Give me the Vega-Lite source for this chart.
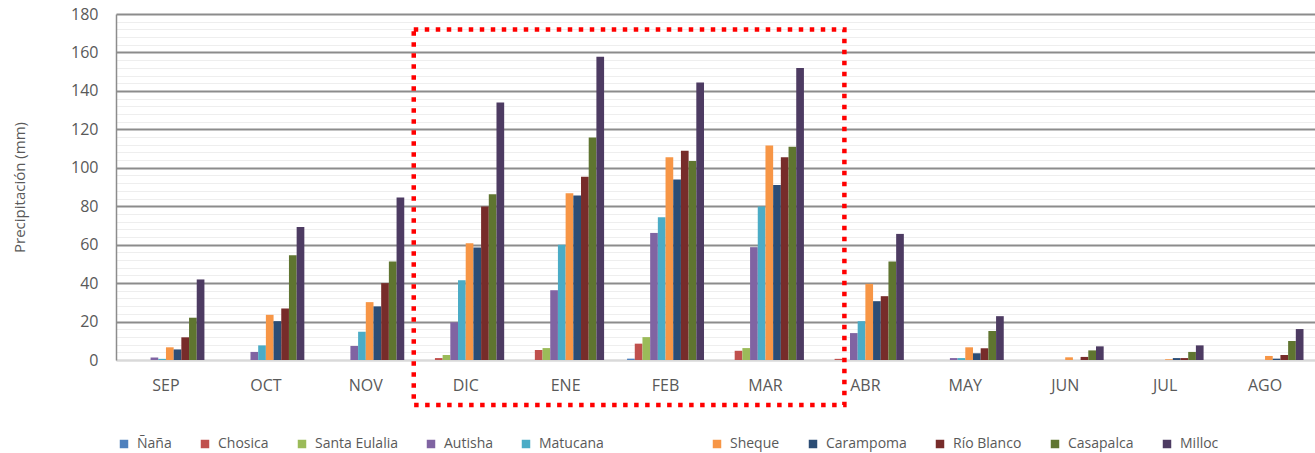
{
  "$schema": "https://vega.github.io/schema/vega-lite/v6.json",
  "autosize": {"type": "none"},
  "padding": {"left": 116, "top": 14, "right": 0, "bottom": 93},
  "width": 1199,
  "height": 346,
  "background": "white",
  "config": {
    "view": {"stroke": null},
    "font": "Open Sans",
    "axis": {"labelFont": "Open Sans", "titleFont": "Open Sans", "labelColor": "#595959", "titleColor": "#595959"},
    "legend": {"labelFont": "Open Sans", "labelColor": "#595959"}
  },
  "datasets": {
    "rain": [
      {"m": "SEP", "s": "Ñaña", "v": 0}, {"m": "SEP", "s": "Chosica", "v": 0}, {"m": "SEP", "s": "Santa Eulalia", "v": 0}, {"m": "SEP", "s": "Autisha", "v": 1.3}, {"m": "SEP", "s": "Matucana", "v": 0.6}, {"m": "SEP", "s": "Sheque", "v": 6.6}, {"m": "SEP", "s": "Carampoma", "v": 5.5}, {"m": "SEP", "s": "Río Blanco", "v": 11.8}, {"m": "SEP", "s": "Casapalca", "v": 22}, {"m": "SEP", "s": "Milloc", "v": 41.9},
      {"m": "OCT", "s": "Ñaña", "v": 0}, {"m": "OCT", "s": "Chosica", "v": 0}, {"m": "OCT", "s": "Santa Eulalia", "v": 0}, {"m": "OCT", "s": "Autisha", "v": 4.2}, {"m": "OCT", "s": "Matucana", "v": 7.6}, {"m": "OCT", "s": "Sheque", "v": 23.5}, {"m": "OCT", "s": "Carampoma", "v": 20.2}, {"m": "OCT", "s": "Río Blanco", "v": 26.8}, {"m": "OCT", "s": "Casapalca", "v": 54.5}, {"m": "OCT", "s": "Milloc", "v": 69.2},
      {"m": "NOV", "s": "Ñaña", "v": 0}, {"m": "NOV", "s": "Chosica", "v": 0}, {"m": "NOV", "s": "Santa Eulalia", "v": 0}, {"m": "NOV", "s": "Autisha", "v": 7.3}, {"m": "NOV", "s": "Matucana", "v": 14.7}, {"m": "NOV", "s": "Sheque", "v": 30.1}, {"m": "NOV", "s": "Carampoma", "v": 27.9}, {"m": "NOV", "s": "Río Blanco", "v": 40}, {"m": "NOV", "s": "Casapalca", "v": 51.2}, {"m": "NOV", "s": "Milloc", "v": 84.6},
      {"m": "DIC", "s": "Ñaña", "v": 0}, {"m": "DIC", "s": "Chosica", "v": 1.0}, {"m": "DIC", "s": "Santa Eulalia", "v": 2.6}, {"m": "DIC", "s": "Autisha", "v": 19.6}, {"m": "DIC", "s": "Matucana", "v": 41.5}, {"m": "DIC", "s": "Sheque", "v": 60.7}, {"m": "DIC", "s": "Carampoma", "v": 58.5}, {"m": "DIC", "s": "Río Blanco", "v": 79.8}, {"m": "DIC", "s": "Casapalca", "v": 86.2}, {"m": "DIC", "s": "Milloc", "v": 133.9},
      {"m": "ENE", "s": "Ñaña", "v": 0}, {"m": "ENE", "s": "Chosica", "v": 5.2}, {"m": "ENE", "s": "Santa Eulalia", "v": 6.2}, {"m": "ENE", "s": "Autisha", "v": 36.3}, {"m": "ENE", "s": "Matucana", "v": 59.9}, {"m": "ENE", "s": "Sheque", "v": 86.7}, {"m": "ENE", "s": "Carampoma", "v": 85.6}, {"m": "ENE", "s": "Río Blanco", "v": 95.3}, {"m": "ENE", "s": "Casapalca", "v": 115.7}, {"m": "ENE", "s": "Milloc", "v": 157.8},
      {"m": "FEB", "s": "Ñaña", "v": 0.7}, {"m": "FEB", "s": "Chosica", "v": 8.5}, {"m": "FEB", "s": "Santa Eulalia", "v": 11.9}, {"m": "FEB", "s": "Autisha", "v": 66.1}, {"m": "FEB", "s": "Matucana", "v": 74.2}, {"m": "FEB", "s": "Sheque", "v": 105.5}, {"m": "FEB", "s": "Carampoma", "v": 93.9}, {"m": "FEB", "s": "Río Blanco", "v": 108.8}, {"m": "FEB", "s": "Casapalca", "v": 103.5}, {"m": "FEB", "s": "Milloc", "v": 144.3},
      {"m": "MAR", "s": "Ñaña", "v": 0}, {"m": "MAR", "s": "Chosica", "v": 4.8}, {"m": "MAR", "s": "Santa Eulalia", "v": 6.2}, {"m": "MAR", "s": "Autisha", "v": 58.7}, {"m": "MAR", "s": "Matucana", "v": 79.8}, {"m": "MAR", "s": "Sheque", "v": 111.6}, {"m": "MAR", "s": "Carampoma", "v": 91}, {"m": "MAR", "s": "Río Blanco", "v": 105.5}, {"m": "MAR", "s": "Casapalca", "v": 110.9}, {"m": "MAR", "s": "Milloc", "v": 151.9},
      {"m": "ABR", "s": "Ñaña", "v": 0}, {"m": "ABR", "s": "Chosica", "v": 0.6}, {"m": "ABR", "s": "Santa Eulalia", "v": 0}, {"m": "ABR", "s": "Autisha", "v": 14}, {"m": "ABR", "s": "Matucana", "v": 20.2}, {"m": "ABR", "s": "Sheque", "v": 39.6}, {"m": "ABR", "s": "Carampoma", "v": 30.6}, {"m": "ABR", "s": "Río Blanco", "v": 33.2}, {"m": "ABR", "s": "Casapalca", "v": 51.2}, {"m": "ABR", "s": "Milloc", "v": 65.6},
      {"m": "MAY", "s": "Ñaña", "v": 0}, {"m": "MAY", "s": "Chosica", "v": 0}, {"m": "MAY", "s": "Santa Eulalia", "v": 0}, {"m": "MAY", "s": "Autisha", "v": 1.0}, {"m": "MAY", "s": "Matucana", "v": 1.0}, {"m": "MAY", "s": "Sheque", "v": 6.6}, {"m": "MAY", "s": "Carampoma", "v": 3.5}, {"m": "MAY", "s": "Río Blanco", "v": 6.1}, {"m": "MAY", "s": "Casapalca", "v": 15.1}, {"m": "MAY", "s": "Milloc", "v": 22.8},
      {"m": "JUN", "s": "Ñaña", "v": 0}, {"m": "JUN", "s": "Chosica", "v": 0}, {"m": "JUN", "s": "Santa Eulalia", "v": 0}, {"m": "JUN", "s": "Autisha", "v": 0}, {"m": "JUN", "s": "Matucana", "v": 0}, {"m": "JUN", "s": "Sheque", "v": 1.4}, {"m": "JUN", "s": "Carampoma", "v": 0}, {"m": "JUN", "s": "Río Blanco", "v": 1.6}, {"m": "JUN", "s": "Casapalca", "v": 5.0}, {"m": "JUN", "s": "Milloc", "v": 7.1},
      {"m": "JUL", "s": "Ñaña", "v": 0}, {"m": "JUL", "s": "Chosica", "v": 0}, {"m": "JUL", "s": "Santa Eulalia", "v": 0}, {"m": "JUL", "s": "Autisha", "v": 0}, {"m": "JUL", "s": "Matucana", "v": 0}, {"m": "JUL", "s": "Sheque", "v": 0.4}, {"m": "JUL", "s": "Carampoma", "v": 1.0}, {"m": "JUL", "s": "Río Blanco", "v": 1.0}, {"m": "JUL", "s": "Casapalca", "v": 4.2}, {"m": "JUL", "s": "Milloc", "v": 7.6},
      {"m": "AGO", "s": "Ñaña", "v": 0}, {"m": "AGO", "s": "Chosica", "v": 0}, {"m": "AGO", "s": "Santa Eulalia", "v": 0}, {"m": "AGO", "s": "Autisha", "v": 0}, {"m": "AGO", "s": "Matucana", "v": 0}, {"m": "AGO", "s": "Sheque", "v": 2.1}, {"m": "AGO", "s": "Carampoma", "v": 0.7}, {"m": "AGO", "s": "Río Blanco", "v": 2.6}, {"m": "AGO", "s": "Casapalca", "v": 9.9}, {"m": "AGO", "s": "Milloc", "v": 16.1}
    ],
    "box": [{"x1": 2.98, "x2": 7.29, "y1": 172.0, "y2": -23.4}]
  },
  "layer": [
    {
      "data": {"name": "rain"},
      "mark": {"type": "bar"},
      "encoding": {
        "x": {
          "field": "m", "type": "nominal",
          "sort": ["SEP", "OCT", "NOV", "DIC", "ENE", "FEB", "MAR", "ABR", "MAY", "JUN", "JUL", "AGO"],
          "scale": {"paddingInner": 0.23, "paddingOuter": 0.115},
          "axis": {"title": null, "labelAngle": 0, "ticks": false, "labelPadding": 17, "labelFontSize": 16, "domainColor": "#d9d9d9", "domainWidth": 2, "grid": false}
        },
        "xOffset": {
          "field": "s", "type": "nominal",
          "sort": ["Ñaña", "Chosica", "Santa Eulalia", "Autisha", "Matucana", "Sheque", "Carampoma", "Río Blanco", "Casapalca", "Milloc"],
          "scale": {"paddingInner": 0, "paddingOuter": 0}
        },
        "y": {
          "field": "v", "type": "quantitative",
          "scale": {"domain": [0, 180], "nice": false},
          "axis": {
            "title": "Precipitación (mm)", "titleFontSize": 15, "titleFontWeight": "normal", "titlePadding": 43,
            "values": [0, 20, 40, 60, 80, 100, 120, 140, 160, 180],
            "labelFontSize": 16, "labelPadding": 18, "ticks": false,
            "domain": true, "domainColor": "#8c8c8c", "domainWidth": 1.5,
            "grid": true, "gridWidth": 1.8,
            "gridColor": {"condition": {"test": "datum.value === 0", "value": "#d9d9d9"}, "value": "#8c8c8c"}
          }
        },
        "color": {
          "field": "s", "type": "nominal",
          "scale": {
            "domain": ["Ñaña", "Chosica", "Santa Eulalia", "Autisha", "Matucana", "Sheque", "Carampoma", "Río Blanco", "Casapalca", "Milloc"],
            "range": ["#4F81BD", "#C0504D", "#9BBB59", "#8064A2", "#4BACC6", "#F79646", "#2C4D75", "#772C2A", "#5F7530", "#4D3B62"]
          },
          "legend": {
            "title": null, "orient": "none", "direction": "horizontal",
            "legendX": 1, "legendY": 423, "padding": 0,
            "symbolType": "square", "symbolSize": 72, "symbolStrokeWidth": 0,
            "labelFontSize": 14, "labelOffset": 6, "columnPadding": 26,
            "labelExpr": "datum.label === 'Matucana' ? 'Matucana\u00a0\u00a0\u00a0\u00a0\u00a0\u00a0\u00a0\u00a0\u00a0\u00a0\u00a0\u00a0\u00a0\u00a0\u00a0\u00a0\u00a0\u00a0\u00a0\u00a0\u00a0\u00a0\u200b' : datum.label"
          }
        }
      }
    },
    {
      "data": {"name": "box"},
      "mark": {"type": "rect", "fill": null, "fillOpacity": 0, "stroke": "#ff0000", "strokeWidth": 4.5, "strokeDash": [4.5, 6.5], "clip": false},
      "encoding": {
        "x": {"field": "x1", "type": "quantitative", "scale": {"domain": [0, 12], "nice": false, "zero": false}, "axis": null},
        "x2": {"field": "x2"},
        "y": {
          "field": "y1", "type": "quantitative",
          "axis": {
            "orient": "left", "title": null, "labels": false, "ticks": false, "domain": false,
            "grid": true, "gridColor": "#eeeeee", "gridWidth": 1,
            "values": [4, 8, 12, 16, 24, 28, 32, 36, 44, 48, 52, 56, 64, 68, 72, 76, 84, 88, 92, 96, 104, 108, 112, 116, 124, 128, 132, 136, 144, 148, 152, 156, 164, 168, 172, 176]
          }
        },
        "y2": {"field": "y2"}
      }
    }
  ],
  "resolve": {"scale": {"x": "independent"}, "axis": {"y": "independent", "x": "independent"}}
}
